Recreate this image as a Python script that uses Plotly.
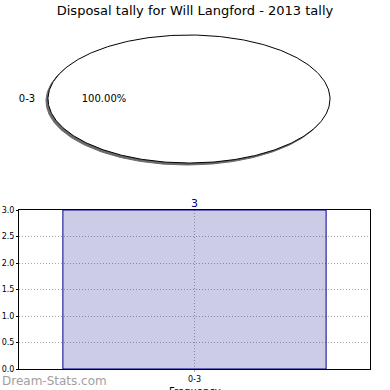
import numpy as np
import plotly.graph_objects as go

title = "Disposal tally for Will Langford - 2013 tally"
x_title = "Frequency"
categories = ["0-3"]
counts = [3]
y_ticks = [0.0, 0.5, 1.0, 1.5, 2.0, 2.5, 3.0]

total = sum(counts)
shares = [c / total for c in counts]

fig = go.Figure()

# --- pie (elliptical, drawn on a pixel-scaled hidden axis) ---
TOP_H = 190
cx, cy, rx, ry = 189, 99, 141, 64
start = 0.0
for i, s in enumerate(shares):
    ang = np.linspace(start, start + 2 * np.pi * s, 400)
    # shadow
    fig.add_trace(go.Scatter(
        x=cx - 2 + rx * np.cos(ang), y=cy + 2 + ry * np.sin(ang),
        mode="lines", fill="toself", fillcolor="#6a6a6a",
        line=dict(color="#6a6a6a", width=1),
        xaxis="x3", yaxis="y3", hoverinfo="skip", showlegend=False))
    fig.add_trace(go.Scatter(
        x=cx + rx * np.cos(ang), y=cy + ry * np.sin(ang),
        mode="lines", fill="toself", fillcolor="white",
        line=dict(color="black", width=1),
        xaxis="x3", yaxis="y3", hoverinfo="skip", showlegend=False))
    fig.add_trace(go.Scatter(
        x=[27, 104], y=[99, 99], mode="text",
        text=[categories[i], f"{s*100:.2f}%"],
        textfont=dict(family="DejaVu Sans", size=10, color="black"),
        xaxis="x3", yaxis="y3", hoverinfo="skip", showlegend=False))
    start += 2 * np.pi * s

# --- bar chart ---
fig.add_trace(go.Bar(
    x=categories, y=counts, width=0.75,
    marker=dict(color="rgba(0,0,128,0.2)", line=dict(color="#00008b", width=1)),
    showlegend=False, xaxis="x", yaxis="y", hoverinfo="x+y"))
fig.add_trace(go.Scatter(
    x=categories, y=counts, mode="text", text=[str(c) for c in counts],
    textposition="top center",
    textfont=dict(family="DejaVu Sans", size=11, color="#00008b"),
    cliponaxis=False, showlegend=False, xaxis="x", yaxis="y", hoverinfo="skip"))

grid = dict(showgrid=True, gridcolor="#a8a8a8", griddash="1px,2px",
            layer="above traces")

fig.update_layout(
    width=390, height=390,
    margin=dict(l=0, r=0, t=0, b=0, autoexpand=False),
    paper_bgcolor="white", plot_bgcolor="rgba(0,0,0,0)",
    title=dict(text=title, x=0.5, xanchor="center", y=1 - 10/390, yanchor="middle",
               font=dict(family="DejaVu Sans", size=13, color="black")),
    xaxis=dict(domain=[19/390, 370/390], range=[-0.5, 0.5], anchor="y",
               showline=True, linecolor="black", mirror=True, **grid,
               ticks="outside", ticklen=2, tickcolor="#a8a8a8",
               tickfont=dict(family="DejaVu Sans", size=8, color="black")),
    yaxis=dict(domain=[1 - 369/390, 1 - 210/390], range=[0, 3], anchor="x",
               tickvals=y_ticks, ticktext=[f"{v:.1f}" for v in y_ticks],
               showline=True, linecolor="black", mirror=True, **grid,
               zeroline=False, ticks="outside", ticklen=2, tickcolor="black",
               tickfont=dict(family="DejaVu Sans", size=8, color="black")),
    xaxis3=dict(domain=[0, 1], range=[0, 390], visible=False, fixedrange=True,
                anchor="y3"),
    yaxis3=dict(domain=[1 - TOP_H/390, 1], range=[TOP_H, 0], visible=False,
                fixedrange=True, anchor="x3"),
    annotations=[
        dict(text="Dream-Stats.com", x=0, y=1 - 381/390,
             xref="paper", yref="paper", xanchor="left", yanchor="middle",
             showarrow=False,
             font=dict(family="DejaVu Sans", size=12, color="#a0a0a0")),
        dict(text=x_title, x=194.5/390, y=1 - 384/390,
             xref="paper", yref="paper", xanchor="center", yanchor="top",
             showarrow=False,
             font=dict(family="DejaVu Sans", size=10, color="black")),
    ],
)

fig.write_html("out.html", config={"displayModeBar": False},
               post_script="document.body.style.margin='0';document.body.style.overflow='hidden';")
